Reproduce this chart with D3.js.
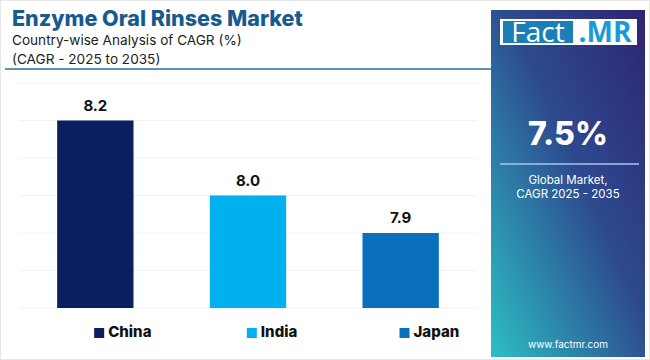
<!DOCTYPE html>
<html>
<head>
<meta charset="utf-8">
<script src="https://cdn.jsdelivr.net/npm/d3@7"></script>
<style>
  html, body { margin: 0; padding: 0; background: #fff; }
  svg { display: block; font-family: Inter, "Open Sans", sans-serif; }
</style>
</head>
<body>
<div id="chart"></div>
<script>
const countries = ["China", "India", "Japan"];
const cagr = [8.2, 8.0, 7.9];
const barColors = ["#0b1f5e", "#00b0ef", "#0a6fbd"];
const gridTicks = [7.7, 7.8, 7.9, 8.0, 8.1, 8.2, 8.3];
const globalCagr = "7.5%";

const width = 650, height = 360;

const svg = d3.select("#chart")
    .append("svg")
    .attr("width", width)
    .attr("height", height);

const defs = svg.append("defs");
const pg = defs.append("linearGradient")
    .attr("id", "panelGrad")
    .attr("x1", "100%").attr("y1", "0%")
    .attr("x2", "0%").attr("y2", "100%");
pg.append("stop").attr("offset", "0%").attr("stop-color", "#2e2474");
pg.append("stop").attr("offset", "45%").attr("stop-color", "#2d4a8f");
pg.append("stop").attr("offset", "100%").attr("stop-color", "#2cbfc4");

const lg = defs.append("linearGradient")
    .attr("id", "lineGrad")
    .attr("x1", "0%").attr("x2", "100%");
lg.append("stop").attr("offset", "0%").attr("stop-color", "#2a6c9e");
lg.append("stop").attr("offset", "100%").attr("stop-color", "#4a9fc9");

// outer frame
svg.append("rect")
    .attr("x", 0.5).attr("y", 0.5)
    .attr("width", width - 1).attr("height", height - 1)
    .attr("fill", "#fff")
    .attr("stroke", "#e6e6e6");

// titles
svg.append("text")
    .attr("x", 12).attr("y", 26)
    .attr("font-size", 21.5)
    .attr("font-weight", 800)
    .attr("fill", "#175b8e")
    .text("Enzyme Oral Rinses Market");

svg.append("text")
    .attr("x", 12).attr("y", 45)
    .attr("font-size", 13.6)
    .attr("fill", "#222")
    .text("Country-wise Analysis of CAGR (%)");

svg.append("text")
    .attr("x", 12).attr("y", 64)
    .attr("font-size", 13.6)
    .attr("fill", "#222")
    .text("(CAGR - 2025 to 2035)");

svg.append("line")
    .attr("x1", 5).attr("x2", 491)
    .attr("y1", 69).attr("y2", 69)
    .attr("stroke", "#2a6c9e")
    .attr("stroke-width", 1.5);

// scales
const x = d3.scaleBand()
    .domain(countries)
    .range([19, 477])
    .paddingInner(0.5)
    .paddingOuter(0.25);

const y = d3.scaleLinear()
    .domain([7.7, 8.3])
    .range([308, 83]);

const g = svg.append("g");

g.selectAll(".grid")
    .data(gridTicks)
    .enter()
    .append("line")
    .attr("class", "grid")
    .attr("x1", 19).attr("x2", 477)
    .attr("y1", d => y(d)).attr("y2", d => y(d))
    .attr("stroke", "#f0f2f6")
    .attr("stroke-width", 1);

g.selectAll(".bar")
    .data(countries)
    .enter()
    .append("rect")
    .attr("class", "bar")
    .attr("x", d => x(d))
    .attr("y", (d, i) => y(cagr[i]))
    .attr("width", x.bandwidth())
    .attr("height", (d, i) => y(7.7) - y(cagr[i]))
    .attr("fill", (d, i) => barColors[i]);

g.selectAll(".val")
    .data(countries)
    .enter()
    .append("text")
    .attr("class", "val")
    .attr("x", d => x(d) + x.bandwidth() / 2)
    .attr("y", (d, i) => y(cagr[i]) - 10)
    .attr("text-anchor", "middle")
    .attr("font-size", 15)
    .attr("font-weight", 700)
    .attr("fill", "#111")
    .text((d, i) => cagr[i].toFixed(1));

// legend
const legend = svg.append("g")
    .selectAll(".leg")
    .data(countries)
    .enter()
    .append("g")
    .attr("class", "leg")
    .attr("transform", d => `translate(${x(d) + 37},0)`);

legend.append("rect")
    .attr("x", 0).attr("y", 328)
    .attr("width", 10).attr("height", 10)
    .attr("fill", (d, i) => barColors[i]);

legend.append("text")
    .attr("x", 14).attr("y", 337)
    .attr("font-size", 15)
    .attr("font-weight", 800)
    .attr("fill", "#111")
    .text(d => d);

svg.append("line")
    .attr("x1", 0).attr("x2", 493)
    .attr("y1", 358).attr("y2", 358)
    .attr("stroke", "url(#lineGrad)")
    .attr("stroke-width", 2);

// right panel
const px = 491, pw = 154;
const cx = px + pw / 2;
svg.append("rect")
    .attr("x", px).attr("y", 10)
    .attr("width", pw).attr("height", 347)
    .attr("fill", "url(#panelGrad)");

svg.append("rect")
    .attr("x", 500).attr("y", 19)
    .attr("width", 137).attr("height", 26)
    .attr("fill", "#fff");

svg.append("rect")
    .attr("x", 503).attr("y", 21)
    .attr("width", 70).attr("height", 22)
    .attr("fill", "#1a7fb5");

svg.append("text")
    .attr("x", 538).attr("y", 41.5)
    .attr("text-anchor", "middle")
    .attr("font-family", "'Open Sans', sans-serif")
    .attr("font-size", 28)
    .attr("fill", "#fff")
    .text("Fact");

svg.append("text")
    .attr("x", 605).attr("y", 41.5)
    .attr("text-anchor", "middle")
    .attr("font-family", "'Open Sans', sans-serif")
    .attr("font-size", 28)
    .attr("font-weight", 700)
    .attr("fill", "#1a9ad6")
    .text(".MR");

svg.append("text")
    .attr("x", cx).attr("y", 145)
    .attr("text-anchor", "middle")
    .attr("font-size", 32)
    .attr("font-weight", 800)
    .attr("fill", "#fff")
    .text(globalCagr);

svg.append("line")
    .attr("x1", 500).attr("x2", 639)
    .attr("y1", 164).attr("y2", 164)
    .attr("stroke", "#a9c6ec")
    .attr("stroke-width", 1.5);

svg.append("text")
    .attr("x", cx).attr("y", 184)
    .attr("text-anchor", "middle")
    .attr("font-size", 11.5)
    .attr("fill", "#fff")
    .text("Global Market,");

svg.append("text")
    .attr("x", cx).attr("y", 198)
    .attr("text-anchor", "middle")
    .attr("font-size", 11.5)
    .attr("fill", "#fff")
    .text("CAGR 2025 - 2035");

svg.append("text")
    .attr("x", cx).attr("y", 348)
    .attr("text-anchor", "middle")
    .attr("font-size", 10)
    .attr("fill", "#fff")
    .text("www.factmr.com");
</script>
</body>
</html>
